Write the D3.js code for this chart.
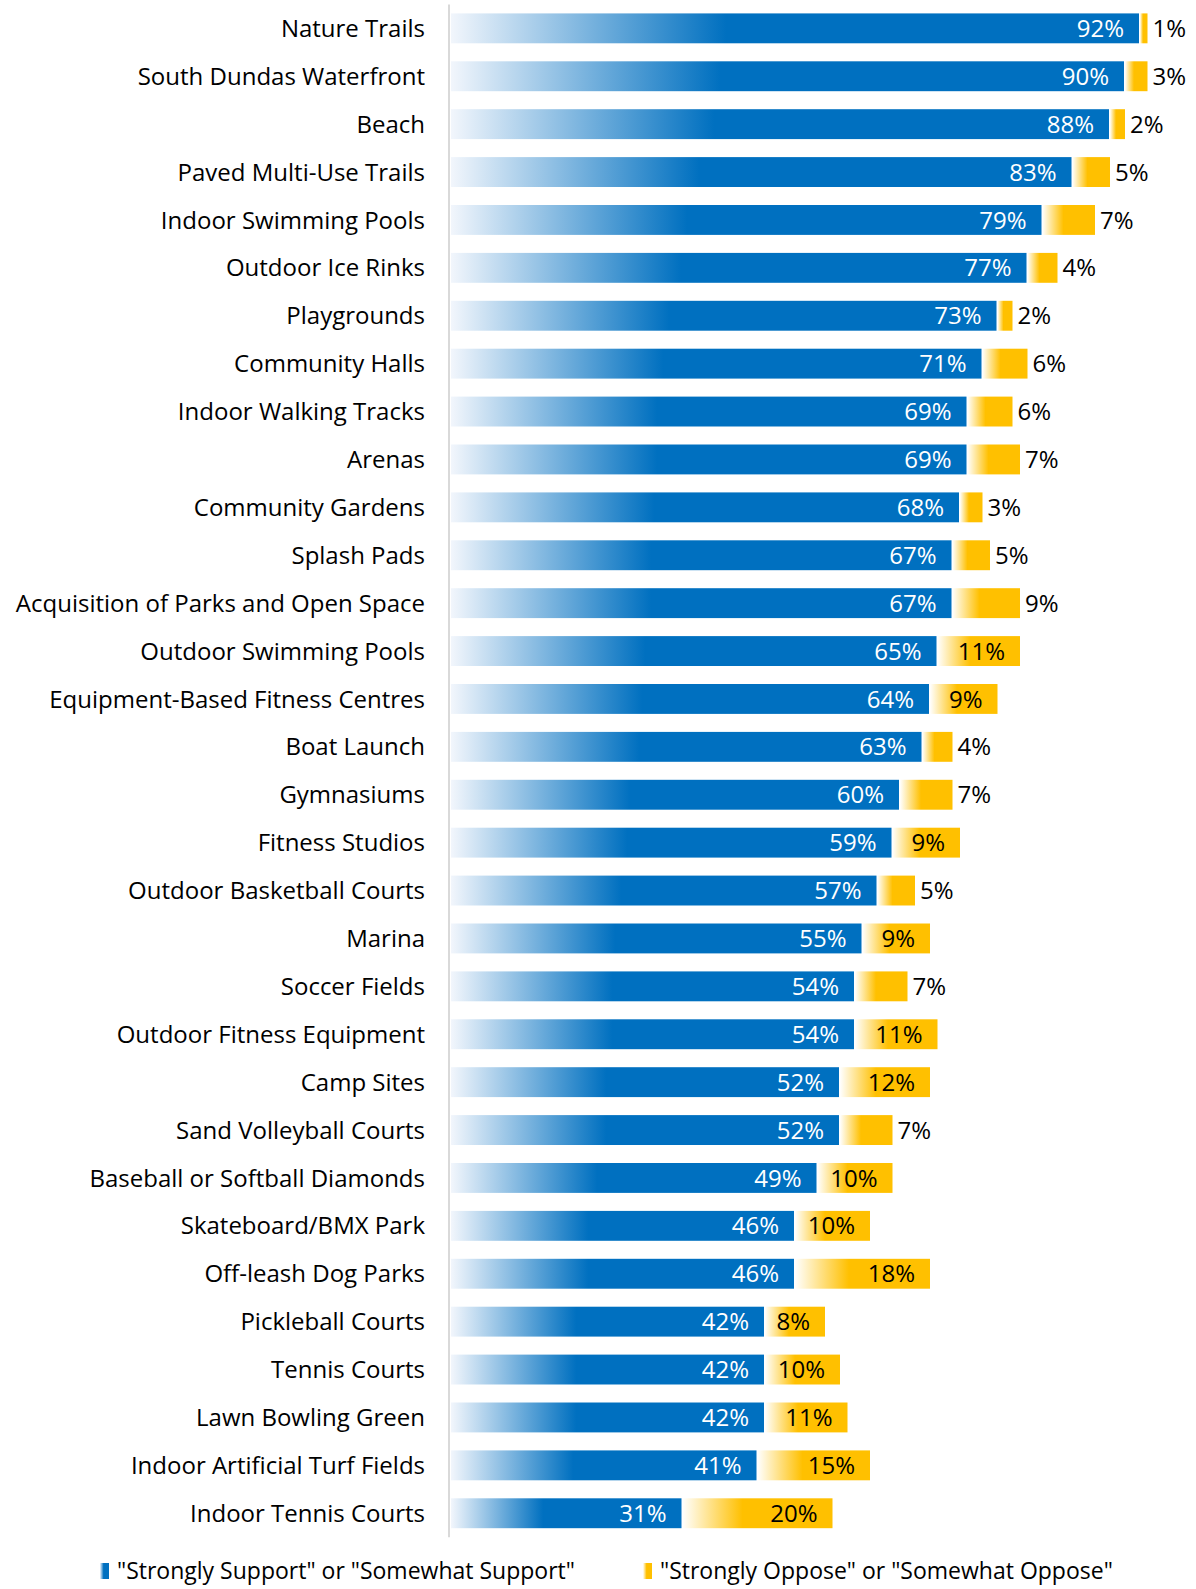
<!DOCTYPE html>
<html lang="en">
  <head>
    <meta charset="utf-8">
    <title>Support for facilities</title>
    <style>
      body { margin: 0; background: #fff; }
      text { font-family: "Open Sans", "Liberation Sans", Arial, sans-serif; }
    </style>
  </head>
  <body>
    <div id="chart"></div>
  </body>
  <script src="https://d3js.org/d3.v7.min.js"></script>
  <script type="text/javascript">
    var categories = [
      "Nature Trails", "South Dundas Waterfront", "Beach", "Paved Multi-Use Trails",
      "Indoor Swimming Pools", "Outdoor Ice Rinks", "Playgrounds", "Community Halls",
      "Indoor Walking Tracks", "Arenas", "Community Gardens", "Splash Pads",
      "Acquisition of Parks and Open Space", "Outdoor Swimming Pools",
      "Equipment-Based Fitness Centres", "Boat Launch", "Gymnasiums", "Fitness Studios",
      "Outdoor Basketball Courts", "Marina", "Soccer Fields", "Outdoor Fitness Equipment",
      "Camp Sites", "Sand Volleyball Courts", "Baseball or Softball Diamonds",
      "Skateboard/BMX Park", "Off-leash Dog Parks", "Pickleball Courts", "Tennis Courts",
      "Lawn Bowling Green", "Indoor Artificial Turf Fields", "Indoor Tennis Courts"
    ];
    var support = [92, 90, 88, 83, 79, 77, 73, 71, 69, 69, 68, 67, 67, 65, 64, 63,
                   60, 59, 57, 55, 54, 54, 52, 52, 49, 46, 46, 42, 42, 42, 41, 31];
    var oppose = [1, 3, 2, 5, 7, 4, 2, 6, 6, 7, 3, 5, 9, 11, 9, 4,
                  7, 9, 5, 9, 7, 11, 12, 7, 10, 10, 18, 8, 10, 11, 15, 20];
    var seriesNames = ['"Strongly Support" or "Somewhat Support"',
                       '"Strongly Oppose" or "Somewhat Oppose"'];
    // the oppose label sits outside the bar for these, even if it is wide
    var outsideLabel = ["Acquisition of Parks and Open Space"];

    var width = 1196, height = 1589;
    var x0 = 449;
    var fs = 24;

    var rows = categories.map(function(c, i) {
      return {name: c, support: support[i], oppose: oppose[i]};
    });

    var svg = d3.select("#chart").append("svg")
      .attr("width", width)
      .attr("height", height);

    var defs = svg.append("defs");
    function grad(id, color, light) {
      var g = defs.append("linearGradient").attr("id", id)
        .attr("x1", "0%").attr("x2", "100%").attr("y1", "0%").attr("y2", "0%");
      g.append("stop").attr("offset", "0%").attr("stop-color", light);
      g.append("stop").attr("offset", "40%").attr("stop-color", color);
      g.append("stop").attr("offset", "100%").attr("stop-color", color);
    }
    grad("gBlue", "#0070c0", "#f2f6fc");
    grad("gGold", "#ffc000", "#ffffff");

    var x = d3.scaleLinear().domain([0, 100]).range([x0, x0 + 750]);
    var y = d3.scaleBand().domain(categories).range([4.4, 1537.2])
      .paddingInner(0.376).paddingOuter(0.188);

    // category labels
    svg.append("g").selectAll("text")
      .data(rows).enter().append("text")
      .attr("x", 425)
      .attr("y", function(d) { return y(d.name) + y.bandwidth() / 2; })
      .attr("dy", "0.36em")
      .attr("text-anchor", "end")
      .attr("font-size", fs)
      .attr("fill", "#000")
      .text(function(d) { return d.name; });

    // axis line
    svg.append("line")
      .attr("x1", x0).attr("x2", x0)
      .attr("y1", y.range()[0]).attr("y2", y.range()[1])
      .attr("stroke", "#d9d9d9").attr("stroke-width", 2);

    var gBars = svg.append("g");
    gBars.selectAll("rect.sup")
      .data(rows).enter().append("rect")
      .attr("class", "sup")
      .attr("x", x(0) + 2)
      .attr("y", function(d) { return y(d.name); })
      .attr("width", function(d) { return x(d.support) - x(0) - 2; })
      .attr("height", y.bandwidth())
      .attr("fill", "url(#gBlue)");

    gBars.selectAll("rect.opp")
      .data(rows).enter().append("rect")
      .attr("class", "opp")
      .attr("x", function(d) { return x(d.support) + 1; })
      .attr("y", function(d) { return y(d.name); })
      .attr("width", function(d) { return x(d.support + d.oppose) - x(d.support); })
      .attr("height", y.bandwidth())
      .attr("fill", "url(#gGold)");

    // value labels
    svg.append("g").selectAll("text")
      .data(rows).enter().append("text")
      .attr("x", function(d) { return x(d.support) - 15; })
      .attr("y", function(d) { return y(d.name) + y.bandwidth() / 2; })
      .attr("dy", "0.36em")
      .attr("text-anchor", "end")
      .attr("font-size", fs)
      .attr("fill", "#fff")
      .text(function(d) { return d.support + "%"; });

    function inside(d) {
      return d.oppose >= 8 && outsideLabel.indexOf(d.name) < 0;
    }
    svg.append("g").selectAll("text")
      .data(rows).enter().append("text")
      .attr("x", function(d) {
        var end = x(d.support + d.oppose) + 1;
        return inside(d) ? end - 15 : end + 5;
      })
      .attr("y", function(d) { return y(d.name) + y.bandwidth() / 2; })
      .attr("dy", "0.36em")
      .attr("text-anchor", function(d) { return inside(d) ? "end" : "start"; })
      .attr("font-size", fs)
      .attr("fill", "#000")
      .text(function(d) { return d.oppose + "%"; });

    // legend
    var legend = svg.append("g");
    var lx = [100, 643];
    var fills = ["url(#gBlue)", "url(#gGold)"];
    seriesNames.forEach(function(s, i) {
      legend.append("rect")
        .attr("x", lx[i]).attr("y", 1563)
        .attr("width", 9).attr("height", 16)
        .attr("fill", fills[i]);
      legend.append("text")
        .attr("x", lx[i] + 17).attr("y", 1571)
        .attr("dy", "0.36em")
        .attr("font-size", 23)
        .attr("fill", "#000")
        .text(s);
    });
  </script>
</html>
